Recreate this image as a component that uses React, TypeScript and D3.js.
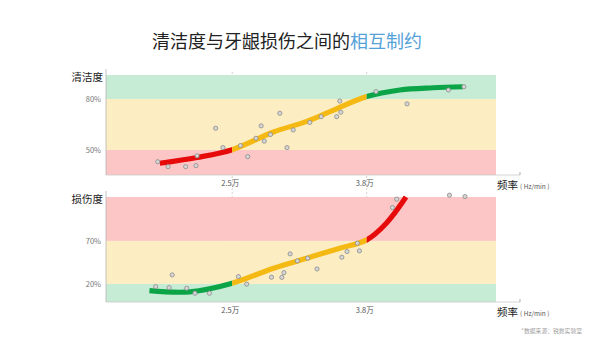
import React from 'react';
import * as d3 from 'd3';

// frequency in 万 Hz/min, values in %
const freqTicks = [2.5, 3.8];
const freqTickLabels = ['2.5万', '3.8万'];

const cleanTicks = [80, 50];
const cleanTickLabels = ['80%', '50%'];
const cleanThresholds = [35.3, 50, 80, 94.1];

const damageTicks = [70, 20];
const damageTickLabels = ['70%', '20%'];
const damageThresholds = [-1, 20, 70, 121];

const cleanCurveF = [1.8, 2.16, 2.5, 2.9, 3.22, 3.48, 3.8, 4.12, 4.44, 4.73];
const cleanCurveV = [42.2, 45.6, 50.2, 60.6, 66.8, 73.5, 81.4, 85.3, 86.6, 87.2];

const cleanPointF = [1.78, 1.88, 2.05, 2.15, 2.16, 2.34, 2.41, 2.58, 2.65, 2.73, 2.78, 2.81, 2.87, 2.96, 3.03, 3.09, 3.25, 3.36, 3.51, 3.54, 3.55, 3.89, 4.19, 4.59, 4.74];
const cleanPointV = [43.1, 40.2, 40.2, 40.8, 46.6, 62.8, 51.4, 52.6, 46.1, 56.9, 64.2, 55.2, 59.1, 71.6, 51.4, 61.8, 66.2, 69.6, 69.6, 78.8, 72.2, 84.3, 77.1, 85.3, 87.2];

const damageCurveF = [1.7, 2.09, 2.5, 2.9, 3.22, 3.54, 3.8, 3.99, 4.18];
const damageCurveV = [12.2, 10.8, 20.8, 38.3, 49.9, 61.5, 71.2, 90.6, 121];

const damagePointF = [1.76, 1.89, 1.92, 2.06, 2.14, 2.28, 2.56, 2.64, 2.88, 2.98, 3.0, 3.06, 3.13, 3.23, 3.32, 3.56, 3.61, 3.71, 3.73, 4.05, 4.09, 4.6, 4.75];
const damagePointV = [16.9, 15.7, 30.5, 15.0, 9.2, 9.2, 28.5, 19.8, 27.8, 27.6, 33.1, 54.9, 46.7, 49.9, 37.4, 51.0, 57.6, 67.3, 58.4, 108.7, 118.5, 123.1, 121.5];

const FONT = '"Noto Sans CJK SC", "Noto Sans", sans-serif';
const BAND_COLORS = { red: '#fdc6c6', yellow: '#fdedc2', green: '#c6ecd5' };
const LINE_COLORS = { red: '#e60a0a', yellow: '#f5b914', green: '#0ba547' };

const x = d3.scaleLinear().domain([1.28, 5.05]).range([106, 496]);
const axisRight = 520;

type PanelProps = {
  id: string;
  y: d3.ScaleLinear<number, number>;
  thresholds: number[];
  bandColors: string[];
  lineColors: string[];
  curveF: number[];
  curveV: number[];
  pointF: number[];
  pointV: number[];
  ticks: number[];
  tickLabels: string[];
  title: string;
};

const Panel = ({ id, y, thresholds, bandColors, lineColors, curveF, curveV, pointF, pointV, ticks, tickLabels, title }: PanelProps) => {
  const [y0, y1] = y.range();
  const line = d3.line<number>()
    .x((_, i) => x(curveF[i]))
    .y((_, i) => y(curveV[i]))
    .curve(d3.curveCatmullRom.alpha(0.5));
  const d = line(curveF) || '';
  const cuts = [x.domain()[0], ...freqTicks, x.domain()[1]];

  return (
    <g>
      <defs>
        {lineColors.map((c, i) => (
          <clipPath id={`${id}-clip-${i}`} key={i}>
            <rect x={i === 0 ? 0 : x(cuts[i])} y={0} width={(i === lineColors.length - 1 ? 600 : x(cuts[i + 1])) - (i === 0 ? 0 : x(cuts[i]))} height={338} />
          </clipPath>
        ))}
      </defs>
      {bandColors.map((c, i) => (
        <rect key={i} x={x.range()[0]} width={x.range()[1] - x.range()[0]}
          y={y(thresholds[i + 1])} height={y(thresholds[i]) - y(thresholds[i + 1])} fill={c} />
      ))}
      {/* axes */}
      <line x1={x.range()[0]} x2={x.range()[0]} y1={y1 - 6} y2={y0} stroke="#b5b5b5" strokeWidth={0.8} />
      <line x1={x.range()[0]} x2={axisRight} y1={y0} y2={y0} stroke="#c8c8c8" strokeWidth={0.8} />
      <line x1={axisRight} x2={axisRight} y1={y0 - 3} y2={y0} stroke="#999" strokeWidth={0.8} />
      {ticks.map((t, i) => (
        <text key={t} x={101} y={y(t)} dy="0.35em" textAnchor="end" fontSize={7.5} fill="#777" fontFamily={FONT}>{tickLabels[i]}</text>
      ))}
      {freqTicks.map((t, i) => (
        <text key={t} x={x(t) - 2} y={y0 + 11} textAnchor="middle" fontSize={7.5} fill="#555" fontFamily={FONT}>{freqTickLabels[i]}</text>
      ))}
      <text x={103} y={y1 + 2} dy="0.35em" textAnchor="end" fontSize={10.5} fill="#222" fontFamily={FONT}>{title}</text>
      <text x={497} y={y0 + 14} fontFamily={FONT} fill="#222">
        <tspan fontSize={10.5}>频率</tspan>
        <tspan fontSize={6.5} fill="#555" dx={2}>( Hz/min )</tspan>
      </text>
      {lineColors.map((c, i) => (
        <path key={i} d={d} fill="none" stroke={c} strokeWidth={5.2} clipPath={`url(#${id}-clip-${i})`} />
      ))}
      {pointF.map((f, i) => (
        <circle key={i} cx={x(f)} cy={y(pointV[i])} r={2.1} fill="#d6d6d6" stroke="#8a8a8a" strokeWidth={0.8} />
      ))}
    </g>
  );
};

export default function App() {
  const yClean = d3.scaleLinear().domain([cleanThresholds[0], cleanThresholds[3]]).range([175, 75]);
  const yDamage = d3.scaleLinear().domain([damageThresholds[0], damageThresholds[3]]).range([302, 197]);

  return (
    <svg width={600} height={338} style={{ position: 'absolute', left: 0, top: 0, background: '#fff' }}>
      <rect width={600} height={338} fill="#fff" />
      <text x={152} y={48} fontSize={18} fontFamily={FONT} fill="#222">
        清洁度与牙龈损伤之间的<tspan fill="#55a2d8">相互制约</tspan>
      </text>
      {freqTicks.map((t) => (
        <line key={t} x1={x(t)} x2={x(t)} y1={72} y2={302} stroke="#bdbdbd" strokeWidth={0.7} strokeDasharray="2,2" />
      ))}
      <Panel id="clean" y={yClean} thresholds={cleanThresholds}
        bandColors={[BAND_COLORS.red, BAND_COLORS.yellow, BAND_COLORS.green]}
        lineColors={[LINE_COLORS.red, LINE_COLORS.yellow, LINE_COLORS.green]}
        curveF={cleanCurveF} curveV={cleanCurveV} pointF={cleanPointF} pointV={cleanPointV}
        ticks={cleanTicks} tickLabels={cleanTickLabels} title="清洁度" />
      <Panel id="damage" y={yDamage} thresholds={damageThresholds}
        bandColors={[BAND_COLORS.green, BAND_COLORS.yellow, BAND_COLORS.red]}
        lineColors={[LINE_COLORS.green, LINE_COLORS.yellow, LINE_COLORS.red]}
        curveF={damageCurveF} curveV={damageCurveV} pointF={damagePointF} pointV={damagePointV}
        ticks={damageTicks} tickLabels={damageTickLabels} title="损伤度" />
      <text x={582} y={333} textAnchor="end" fontSize={5.8} fill="#a0a0a0" fontFamily={FONT}>*数据来源：锐舞实验室</text>
    </svg>
  );
}
